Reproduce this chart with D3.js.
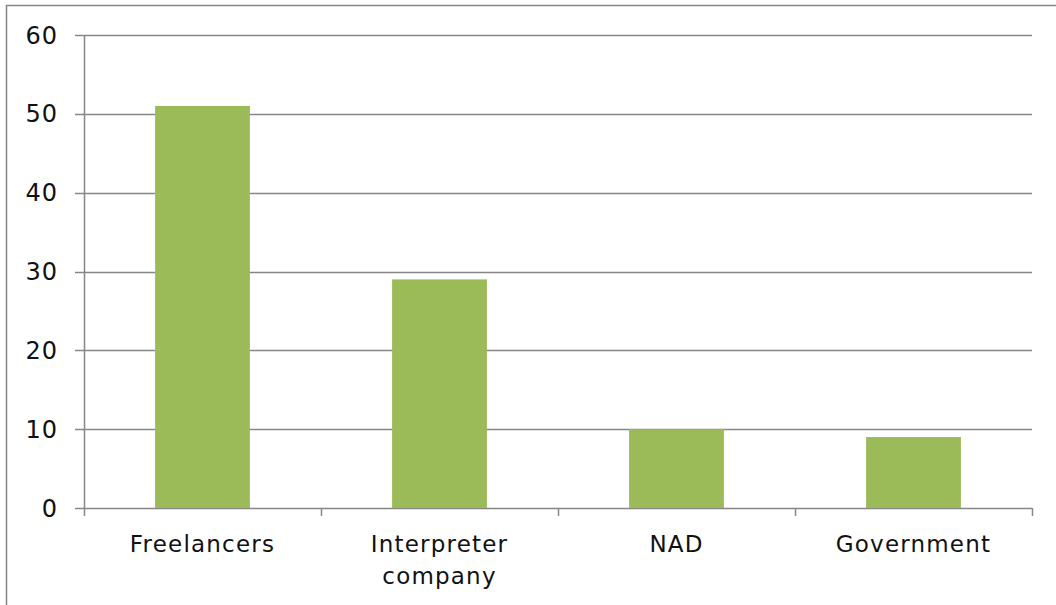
<!DOCTYPE html>
<html>
<head>
<meta charset="utf-8">
<script src="https://cdn.jsdelivr.net/npm/d3@7"></script>
<style>
    html, body { margin: 0; padding: 0; background: #fff; }
    svg { display: block; }
    text { font-family: "DejaVu Sans", sans-serif; fill: #111; }
</style>
</head>
<body>
<div id="chart"></div>
<script>
const categories = ['Freelancers', 'Interpreter company', 'NAD', 'Government'];
const values = [51, 29, 10, 9];
const yTicks = [0, 10, 20, 30, 40, 50, 60];

const width = 1056;
const height = 605;
const margin = { top: 35, right: 24, bottom: 97, left: 84 };

const svg = d3.select('#chart')
    .append('svg')
    .attr('width', width)
    .attr('height', height);

// outer chart border
svg.append('rect')
    .attr('x', 6.5)
    .attr('y', 5.5)
    .attr('width', width)
    .attr('height', height)
    .attr('fill', 'none')
    .attr('stroke', '#868686')
    .attr('stroke-width', 1.5);

const x = d3.scaleBand()
    .domain(categories)
    .range([margin.left, width - margin.right])
    .paddingInner(0.6)
    .paddingOuter(0.3);

const y = d3.scaleLinear()
    .domain([0, 60])
    .range([height - margin.bottom, margin.top]);

// gridlines
svg.append('g')
    .selectAll('line')
    .data(yTicks)
    .enter()
    .append('line')
    .attr('x1', margin.left - 9)
    .attr('x2', width - margin.right)
    .attr('y1', d => Math.round(y(d)) + 0.5)
    .attr('y2', d => Math.round(y(d)) + 0.5)
    .attr('stroke', '#868686')
    .attr('stroke-width', 1.5);

// bars
svg.append('g')
    .selectAll('rect')
    .data(values)
    .enter()
    .append('rect')
    .attr('x', (d, i) => x(categories[i]))
    .attr('y', d => y(d))
    .attr('width', x.bandwidth())
    .attr('height', d => y(0) - y(d))
    .attr('fill', '#9BBB59');

// y axis line
svg.append('line')
    .attr('x1', margin.left + 0.5)
    .attr('x2', margin.left + 0.5)
    .attr('y1', margin.top)
    .attr('y2', y(0))
    .attr('stroke', '#868686')
    .attr('stroke-width', 1.5);

// x axis ticks between categories
const step = (width - margin.right - margin.left) / categories.length;
svg.append('g')
    .selectAll('line')
    .data(d3.range(categories.length + 1))
    .enter()
    .append('line')
    .attr('x1', i => Math.round(margin.left + i * step) + 0.5)
    .attr('x2', i => Math.round(margin.left + i * step) + 0.5)
    .attr('y1', y(0))
    .attr('y2', y(0) + 8)
    .attr('stroke', '#868686')
    .attr('stroke-width', 1.5);

// y tick labels
svg.append('g')
    .selectAll('text')
    .data(yTicks)
    .enter()
    .append('text')
    .attr('x', 58)
    .attr('y', d => y(d))
    .attr('dy', '0.36em')
    .attr('text-anchor', 'end')
    .attr('font-size', 24)
    .attr('letter-spacing', 1)
    .text(d => d);

// category labels (wrapped)
const labelLines = {
    'Freelancers': ['Freelancers'],
    'Interpreter company': ['Interpreter', 'company'],
    'NAD': ['NAD'],
    'Government': ['Government']
};

svg.append('g')
    .selectAll('text')
    .data(categories)
    .enter()
    .append('text')
    .attr('x', d => x(d) + x.bandwidth() / 2)
    .attr('y', 552)
    .attr('text-anchor', 'middle')
    .attr('font-size', 23)
    .attr('letter-spacing', 1.2)
    .each(function (d) {
        const t = d3.select(this);
        labelLines[d].forEach((line, i) => {
            t.append('tspan')
                .attr('x', x(d) + x.bandwidth() / 2)
                .attr('dy', i === 0 ? 0 : 32)
                .text(line);
        });
    });
</script>
</body>
</html>
